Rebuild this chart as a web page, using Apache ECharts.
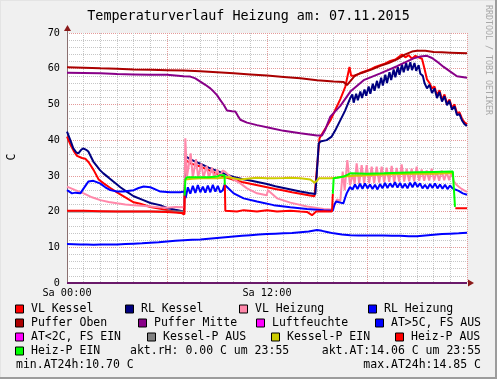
<!DOCTYPE html>
<html><head><meta charset="utf-8">
<script src="https://cdn.jsdelivr.net/npm/echarts@6/dist/echarts.min.js"></script>
<style>html,body{margin:0;padding:0;background:#f0f0f0}#c{width:497px;height:379px}</style>
</head><body><div id="c"></div>
<script>
// ---- data: [hour, °C] ----
const vlKessel = [[0,41.0],[0.2,38.8],[0.4,37.0],[0.6,35.6],[0.9,35.0],[1.1,34.8],[1.3,33.8],[1.6,31.6],[1.9,29.0],[2.2,27.9],[2.6,26.6],[3.0,25.4],[3.6,23.7],[4.0,22.6],[4.4,22.2],[5.0,21.3],[5.6,20.8],[6.2,20.2],[6.8,19.7],[7.04,19.2],
 [7.1,34.5],[7.4,33.5],[8.0,32.6],[8.5,31.6],[9.0,30.6],[9.5,29.6],[10.0,28.9],[10.5,28.3],[11.0,27.8],[11.5,27.3],[12.0,26.8],[12.5,26.3],[13.0,25.9],[13.5,25.4],[14.0,25.0],[14.5,24.6],[14.85,24.3],[14.95,24.0],
 [15.05,35.0],[15.15,40.5],[15.4,42.5],[15.8,45.5],[16.1,48.5],[16.4,51.5],[16.7,55.0],[16.95,60.5],[17.05,58.0],[17.3,58.0],[17.6,58.8],[17.9,59.3],[18.2,59.8],[18.5,60.5],[18.8,61.0],[19.1,61.5],[19.4,62.2],[19.7,62.6],[19.9,63.3],[20.1,64.0],[20.3,63.2],[20.5,63.8],[20.7,62.8],[20.9,63.6],[21.1,63.2],[21.3,62.8],[21.45,60.0],[21.6,57.0],[21.75,56.0],[21.9,54.5],[22.05,55.0],[22.2,52.5],[22.35,54.0],[22.5,51.3],[22.65,52.8],[22.8,50.2],[22.95,51.4],[23.1,49.0],[23.25,50.0],[23.4,47.5],[23.55,47.8],[23.7,46.0],[23.85,45.0],[24.0,44.5]];
const rlKessel = [[0,42.4],[0.2,40.0],[0.38,37.7],[0.55,36.6],[0.68,36.3],[0.85,37.3],[0.98,37.7],[1.15,37.3],[1.28,36.8],[1.58,34.0],[1.98,31.6],[2.18,30.7],[2.5,29.5],[2.78,28.4],[3.2,26.8],[3.58,25.6],[4.0,24.3],[4.58,23.2],[5.0,22.4],[5.58,21.8],[6.0,21.0],[6.5,20.5],[7.02,20.0],
 [7.12,35.5],[7.4,34.6],[8.0,33.4],[8.5,32.3],[9.0,31.4],[9.5,30.5],[10.0,29.7],[10.5,29.1],[11.0,28.7],[11.5,28.2],[12.0,27.7],[12.5,27.1],[13.0,26.6],[13.5,26.1],[14.0,25.6],[14.5,25.2],[14.9,24.9],
 [14.98,30.0],[15.1,39.0],[15.2,39.6],[15.58,40.0],[15.88,41.0],[16.08,42.6],[16.38,45.4],[16.68,48.2],[16.82,49.8],[17.0,51.8],[17.12,52.8],[17.2,50.5],
 [17.35,53.0],[17.45,51.2],[17.6,53.6],[17.7,51.8],[17.85,54.2],[17.95,52.4],[18.1,55.0],[18.2,53.0],[18.35,55.8],[18.45,53.8],[18.6,56.6],[18.7,54.5],[18.85,57.5],[18.95,55.3],[19.1,58.3],[19.2,56.0],[19.35,59.0],[19.45,56.8],[19.6,59.8],[19.7,57.6],[19.85,60.5],[19.95,58.3],[20.1,61.2],[20.2,59.0],[20.35,61.6],[20.45,59.5],[20.6,61.8],[20.7,59.6],[20.85,61.6],[20.95,59.4],[21.1,61.0],[21.2,58.6],[21.35,58.0],
 [21.45,56.0],[21.6,54.5],[21.75,55.5],[21.9,53.2],[22.05,54.5],[22.2,51.8],[22.35,53.5],[22.5,50.8],[22.65,52.3],[22.8,49.8],[22.95,51.0],[23.1,48.5],[23.25,49.5],[23.4,47.0],[23.55,47.3],[23.7,45.5],[23.85,44.5],[24.0,44.0]];
const vlHeizung = [[0,27.0],[0.5,26.0],[1.0,25.1],[1.5,24.0],[2.0,23.2],[2.5,22.7],[3.0,22.3],[3.5,22.0],[4.0,21.8],[4.5,21.6],[5.0,21.4],[5.5,21.2],[6.0,21.1],[6.5,21.3],[7.04,21.2],
 [7.1,40.5],[7.2,29.8],[7.42,36.3],[7.55,29.5],[7.74,34.7],[7.87,29.5],[8.06,33.5],[8.19,29.5],[8.38,32.8],[8.51,29.5],[8.7,32.3],[8.83,29.5],[9.02,31.8],[9.15,29.5],[9.34,31.5],[9.47,31.2],
 [9.7,30.2],[10.0,29.0],[10.4,27.9],[10.8,26.5],[11.4,25.1],[11.98,24.6],[12.06,26.0],[12.6,23.7],[13.4,22.5],[14.4,21.4],[15.4,20.7],[15.9,20.6],
 [16.05,22.0],[16.2,23.4],[16.4,22.9],[16.54,31.2],[16.66,26.0],[16.82,34.4],[16.98,27.4],[17.14,30.5],[17.26,27.8],[17.38,33.5],[17.53,27.8],[17.68,33.0],[17.83,27.9],[17.98,33.0],[18.13,28.0],[18.28,32.6],[18.43,28.0],[18.58,32.6],[18.73,28.1],[18.88,32.6],[19.03,28.2],[19.18,32.3],[19.33,28.3],[19.48,32.8],[19.63,28.2],[19.78,32.2],[19.93,28.4],[20.08,33.2],[20.23,28.4],[20.38,32.0],[20.53,28.5],[20.68,32.0],[20.83,28.5],[20.98,32.6],[21.13,28.6],[21.28,31.8],[21.43,28.6],[21.58,31.5],[21.73,28.7],[21.88,32.0],[22.03,28.7],[22.18,31.3],[22.33,28.6],[22.48,31.5],[22.63,28.8],[22.78,31.0],[22.93,28.8],[23.08,31.2],[23.2,28.5],[23.35,27.6],[23.6,26.6],[23.8,26.0],[24.0,25.5]];
const rlHeizung = [[0,26.0],[0.3,25.1],[0.5,25.3],[0.8,25.1],[1.0,26.5],[1.28,28.4],[1.58,28.6],[1.98,27.9],[2.3,26.8],[2.6,26.0],[3.0,25.6],[3.4,25.6],[4.0,26.0],[4.3,26.6],[4.6,27.0],[5.0,26.8],[5.3,26.2],[5.6,25.6],[6.2,25.4],[6.8,25.4],[7.05,25.6],[7.12,23.8],
 [7.25,26.8],[7.4,25.0],[7.55,27.2],[7.7,25.2],[7.85,27.4],[8.0,25.4],[8.15,27.0],[8.3,25.3],[8.45,27.3],[8.6,25.4],[8.75,27.5],[8.9,25.6],[9.05,27.2],[9.2,25.4],[9.35,26.0],[9.45,27.5],
 [9.6,26.9],[10.0,25.1],[10.6,23.7],[11.4,22.8],[12.4,21.8],[13.4,21.2],[14.4,20.7],[15.4,20.4],[15.95,20.3],
 [16.05,22.0],[16.15,22.8],[16.58,22.3],[16.7,24.0],[16.78,25.1],[16.98,26.9],
 [17.13,26.2],[17.28,27.6],[17.43,26.3],[17.58,27.8],[17.73,26.4],[17.88,27.9],[18.03,26.5],[18.18,27.6],[18.33,26.3],[18.48,27.5],[18.63,26.2],[18.78,27.7],[18.93,26.5],[19.08,28.0],[19.23,26.6],[19.38,27.9],[19.53,26.8],[19.68,28.2],[19.83,26.7],[19.98,28.0],[20.13,26.6],[20.28,27.8],[20.43,26.5],[20.58,28.1],[20.73,26.8],[20.88,28.2],[21.03,26.9],[21.18,27.9],[21.33,26.5],[21.48,27.5],[21.63,26.4],[21.78,27.7],[21.93,26.6],[22.08,27.9],[22.23,26.5],[22.38,27.6],[22.53,26.4],[22.68,27.5],[22.83,26.3],[22.98,27.3],[23.13,26.5],[23.25,26.6],[23.5,25.8],[23.75,25.1],[24.0,24.7]];
const pufferOben = [[0,60.4],[1,60.3],[2,60.1],[3,60.0],[4,59.8],[5,59.7],[6,59.6],[7,59.5],[8,59.3],[9,59.0],[10,58.7],[11,58.4],[12,58.1],[13,57.7],[14,57.3],[15,56.8],[16,56.4],[16.6,56.3],[16.8,55.4],[17.0,56.5],[17.3,58.2],[17.8,59.0],[18.3,59.8],[18.8,60.8],[19.3,61.6],[19.8,62.6],[20.3,64.0],[20.7,64.8],[21.0,65.0],[21.5,65.0],[22.0,64.7],[22.5,64.6],[23.0,64.5],[23.5,64.4],[24.0,64.3]];
const pufferMitte = [[0,58.9],[1,58.8],[2,58.7],[3,58.5],[4,58.4],[5,58.3],[6,58.3],[7,57.9],[7.4,57.8],[7.7,57.3],[8.0,56.4],[8.3,55.5],[8.6,54.5],[8.8,53.6],[9.0,52.6],[9.2,51.2],[9.4,49.9],[9.6,48.3],[9.9,48.1],[10.1,48.0],[10.25,46.8],[10.4,45.7],[10.8,44.9],[11.4,44.2],[12.2,43.4],[13.0,42.6],[14.0,41.9],[15.0,41.3],[15.3,41.3],[15.5,43.0],[15.8,46.6],[16.4,49.6],[17.0,53.6],[17.8,56.8],[18.8,58.7],[19.8,60.7],[20.8,62.9],[21.2,63.4],[21.6,63.6],[21.9,63.0],[22.2,62.0],[22.6,60.5],[23.0,59.2],[23.4,57.9],[24.0,57.5]];
const luftfeuchte = [[0,0],[24,0]];
const aussenTemp = [[0,10.9],[0.4,10.85],[0.8,10.8],[1.2,10.75],[1.6,10.7],[2.0,10.75],[2.5,10.8],[3.0,10.8],[3.5,10.9],[4.0,11.0],[4.5,11.1],[5.0,11.3],[5.5,11.4],[6.0,11.6],[6.5,11.8],[7.0,12.0],[7.5,12.1],[8.0,12.2],[8.5,12.4],[9.0,12.6],[9.5,12.8],[10.0,13.0],[10.5,13.2],[11.0,13.4],[11.5,13.6],[12.0,13.7],[12.5,13.8],[13.0,13.9],[13.5,14.0],[14.0,14.2],[14.5,14.4],[15.0,14.85],[15.3,14.6],[15.6,14.3],[16.0,13.9],[16.5,13.6],[17.0,13.4],[17.5,13.3],[18.0,13.3],[18.5,13.3],[19.0,13.3],[19.5,13.2],[20.0,13.2],[20.5,13.1],[21.0,13.1],[21.5,13.3],[22.0,13.5],[22.5,13.7],[23.0,13.8],[23.5,13.9],[24.0,14.06]];
const kesselPAus = [[0,20.0],[7.04,20.0]];
const kesselPEin = [[7.12,29.0],[7.5,29.2],[8.0,29.3],[8.5,29.3],[9.0,29.3],[9.4,29.5],[9.6,29.7],[10.4,29.0],[10.8,29.2],[11.4,29.5],[12.0,29.3],[12.4,29.3],[13.0,29.4],[13.4,29.5],[14.0,29.3],[14.6,29.0],[14.85,28.1],[15.0,28.6],[15.1,29.3],[15.8,29.3],[16.2,29.5],[16.6,29.8],[17.2,30.0],[18.0,30.2],[19.0,30.4],[20.0,30.5],[21.0,30.6],[22.0,30.6],[23.1,30.8],[23.2,30.6]];
const heizPAus = [[0,20.2],[1,20.2],[2,20.1],[3,20.0],[4,20.0],[5,20.0],[6,19.9],[6.9,19.6],[7.03,19.4],[7.06,24.5],[7.07,null],
 [9.47,27.5],[9.5,20.2],[10.2,20.0],[10.6,20.4],[11.4,20.0],[12.0,20.4],[12.6,20.0],[13.4,20.2],[14.0,20.0],[14.4,19.9],[14.7,19.0],[14.95,20.0],[15.4,20.1],[15.9,20.0],[15.95,25.0],[15.96,null],
 [23.3,20.9],[24.0,20.9]];
const heizPEin = [[7.06,24.5],[7.1,29.0],[7.2,29.6],[8.0,29.6],[8.5,29.6],[9.0,29.8],[9.2,30.2],[9.45,30.2],[9.47,27.5],[9.48,null],
 [15.95,25.0],[16.0,29.3],[16.6,29.8],[17.0,30.7],[18.0,30.6],[19.0,30.7],[20.0,30.9],[21.0,31.0],[22.0,31.1],[23.15,31.2],[23.28,21.3]];

const xLabelHours = [0, 12];
const xLabelTexts = ['Sa 00:00', 'Sa 12:00'];
const yLabelValues = [0, 10, 20, 30, 40, 50, 60, 70];
const titleText = 'Temperaturverlauf Heizung am: 07.11.2015';
const legendNames = [['VL Kessel','RL Kessel','VL Heizung','RL Heizung'],['Puffer Oben','Puffer Mitte','Luftfeuchte','AT>5C, FS AUS'],['AT<2C, FS EIN','Kessel-P AUS','Kessel-P EIN','Heiz-P AUS'],['Heiz-P EIN']];
const legendColors = [['#ff0000','#000080','#ff88aa','#0000ff'],['#aa0000','#880088','#ff00ff','#0000ff'],['#ff00ff','#808080','#cccc00','#ff0000'],['#00ff00']];
const infoTexts = ['akt.rH: 0.00 C um 23:55','akt.AT:14.06 C um 23:55','min.AT24h:10.70 C','max.AT24h:14.85 C'];

// ---- layout ----
const MONO = '"DejaVu Sans Mono", monospace';
const legendTextX = [[31,141,255,384],[31,154,272,391],[31,163,287,411],[31]];
const rowY = [309.5,323.5,337.5,351.5,365.5];
const MAJ = '#e49a9a', MIN = '#c6c6c6';

const chart = echarts.init(document.getElementById('c'), null, {renderer:'canvas'});
function ser(name, data, color, w) {
  return {name, type:'line', data, showSymbol:false, symbol:'none', silent:true, animation:false,
    lineStyle:{color, width:w||2}, itemStyle:{color}, emphasis:{disabled:true}};
}
const g = [];
g.push({type:'rect', shape:{x:0,y:0,width:497,height:1}, style:{fill:'#e4e4e4'}, silent:true});
g.push({type:'rect', shape:{x:0,y:0,width:1,height:379}, style:{fill:'#e4e4e4'}, silent:true});
g.push({type:'rect', shape:{x:0,y:377,width:497,height:2}, style:{fill:'#9c9c9c'}, silent:true});
g.push({type:'rect', shape:{x:495,y:0,width:2,height:379}, style:{fill:'#9c9c9c'}, silent:true});
g.push({type:'line', shape:{x1:67.5,y1:33,x2:67.5,y2:28}, style:{stroke:'#8a7070',lineWidth:1}, silent:true});
g.push({type:'polygon', shape:{points:[[64,31],[71,31],[67.5,25]]}, style:{fill:'#8b1a1a'}, silent:true, z:10});
g.push({type:'polygon', shape:{points:[[468,279.5],[468,286.5],[474,283]]}, style:{fill:'#8b1a1a'}, silent:true, z:10});
g.push({type:'text', x:12, y:157, rotation:Math.PI/2, style:{text:'C', font:'11.5px '+MONO, fill:'#000', align:'center', verticalAlign:'middle'}, silent:true});
g.push({type:'text', x:488, y:5, rotation:-Math.PI/2, style:{text:'RRDTOOL / TOBI OETIKER', font:'8.3px '+MONO, fill:'#a8a8a8', align:'left', verticalAlign:'middle'}, silent:true});
legendNames.forEach((row, r) => row.forEach((nm, i) => {
  const tx = legendTextX[r][i];
  g.push({type:'rect', shape:{x:tx-15.5, y:rowY[r]-4.5, width:8, height:8}, style:{fill:legendColors[r][i], stroke:'#000', lineWidth:1}, silent:true});
  g.push({type:'text', x:tx, y:rowY[r], style:{text:nm, font:'11.5px '+MONO, fill:'#000', align:'left', verticalAlign:'middle'}, silent:true});
}));
g.push({type:'text', x:130, y:rowY[3], style:{text:infoTexts[0], font:'11.5px '+MONO, fill:'#000', align:'left', verticalAlign:'middle'}, silent:true});
g.push({type:'text', x:481, y:rowY[3], style:{text:infoTexts[1], font:'11.5px '+MONO, fill:'#000', align:'right', verticalAlign:'middle'}, silent:true});
g.push({type:'text', x:16, y:rowY[4], style:{text:infoTexts[2], font:'11.5px '+MONO, fill:'#000', align:'left', verticalAlign:'middle'}, silent:true});
g.push({type:'text', x:481, y:rowY[4], style:{text:infoTexts[3], font:'11.5px '+MONO, fill:'#000', align:'right', verticalAlign:'middle'}, silent:true});

chart.setOption({
  animation:false,
  backgroundColor:'#f0f0f0',
  title:{text:titleText, left:'center', top:5, textStyle:{fontFamily:MONO, fontSize:13.4, fontWeight:'normal', color:'#000'}},
  grid:{left:67, top:33, width:400, height:250, show:true, backgroundColor:'#ffffff', borderWidth:0},
  xAxis:{type:'value', min:0, max:24, interval:1,
    axisLine:{show:false}, axisTick:{show:false},
    axisLabel:{show:true, margin:5, fontFamily:MONO, fontSize:10.2, color:'#000', showMaxLabel:false, hideOverlap:false,
      formatter:v => { const k = xLabelHours.indexOf(v); return k >= 0 ? xLabelTexts[k] : ''; }},
    splitLine:{show:true, lineStyle:{color:[MAJ,MIN,MIN,MIN,MIN,MIN], width:1, type:[1,1]}}},
  yAxis:{type:'value', min:0, max:70, interval:2,
    axisLine:{show:true, lineStyle:{color:'#8a7070', width:1}},
    axisTick:{show:false},
    axisLabel:{margin:7, fontFamily:MONO, fontSize:10.2, color:'#000', hideOverlap:false,
      formatter:v => yLabelValues.indexOf(v) >= 0 ? String(v) : ''},
    splitLine:{show:true, lineStyle:{color:[MAJ,MIN,MIN,MIN,MIN], width:1, type:[1,1]}}},
  graphic:g,
  series:[
    ser('VL Kessel', vlKessel, '#ff0000'),
    ser('RL Kessel', rlKessel, '#000080'),
    ser('VL Heizung', vlHeizung, '#ff88aa'),
    ser('RL Heizung', rlHeizung, '#0000ff'),
    ser('Puffer Oben', pufferOben, '#aa0000'),
    ser('Puffer Mitte', pufferMitte, '#880088'),
    Object.assign(ser('Luftfeuchte', luftfeuchte, '#6a1a6a', 2), {clip:false}),
    ser('AT>5C, FS AUS', aussenTemp, '#0000ff'),
    ser('Kessel-P AUS', kesselPAus, '#808080'),
    ser('Kessel-P EIN', kesselPEin, '#cccc00'),
    ser('Heiz-P AUS', heizPAus, '#ff0000'),
    ser('Heiz-P EIN', heizPEin, '#00ff00')
  ]
});
</script></body></html>
